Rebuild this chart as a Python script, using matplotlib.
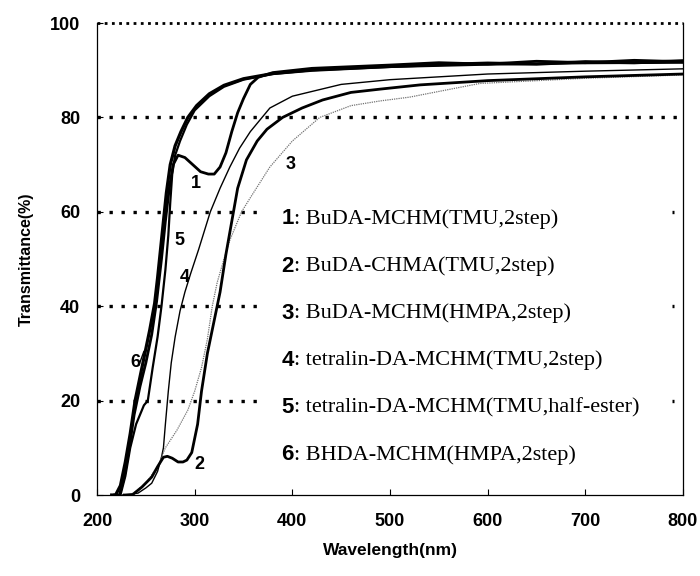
import matplotlib
matplotlib.use("Agg")
import matplotlib.pyplot as plt

# Transmittance spectra (wavelength nm, T %)
wl1 = [218, 223, 228, 233, 238, 244, 250, 256, 261, 266, 270, 274, 278, 283, 290, 298, 306, 314,
       320, 326, 332, 338, 344, 350, 357, 365, 380, 420, 500, 550, 600, 650, 700, 750, 800]
t1 = [0, 0, 4, 10, 17, 23, 28, 34, 41, 50, 58, 65, 70, 72, 71.5, 70, 68.5, 68,
      68, 69.5, 72.5, 77, 81, 84, 87, 88.5, 89.5, 90.4, 91.1, 91.6, 91.3, 91.9, 91.6, 92.1, 91.8]

wl2 = [228, 236, 246, 256, 262, 268, 272, 277, 283, 288, 292, 297, 300, 303, 307, 313, 320, 326,
       332, 338, 344, 353, 364, 374, 390, 410, 431, 460, 490, 531, 600, 700, 800]
t2 = [0, 0, 1.7, 3.8, 6, 8, 8.2, 7.8, 7, 7, 7.4, 9, 12, 15, 22, 30, 37, 43,
      51, 58, 65, 71, 75, 77.5, 80, 82, 83.7, 85.3, 86, 86.9, 87.8, 88.6, 89.2]

wl3 = [234, 240, 250, 262, 270, 282, 293, 300, 307, 313, 318, 323, 330, 336, 348, 357, 377, 400,
       428, 460, 490, 520, 592, 700, 800]
t3 = [0, 0.8, 2.5, 6, 10, 13.8, 18, 22, 27, 33, 40, 45, 50, 54, 60, 63, 69.5, 75,
      80, 82.5, 83.5, 84.3, 87.2, 88.3, 89]

wl4 = [226, 242, 250, 256, 262, 266, 268, 270, 273, 276, 280, 285, 290, 296, 304, 316, 326, 336,
       346, 357, 377, 400, 450, 500, 600, 700, 800]
t4 = [0, 0.4, 1.5, 2.5, 5, 8, 10, 15, 22, 28, 33.5, 39, 43, 47, 52, 60, 65, 69.5,
      73.5, 77, 82, 84.5, 87, 88, 89.2, 89.8, 90.3]

wl5 = [218, 224, 229, 234, 240, 244, 248, 252, 257, 262, 266, 270, 273, 275, 277, 280, 285, 292,
       300, 315, 330, 350, 380, 420, 500, 600, 700, 800]
t5 = [0, 0, 4, 10, 15, 17, 19, 20, 27, 33.5, 40, 47.7, 55, 62, 68, 72, 75, 78.5,
      81.5, 84.5, 86.5, 88, 89.2, 90, 90.7, 91.2, 91.5, 91.6]

wl6 = [215, 219, 224, 229, 234, 239, 244, 249, 254, 259, 262, 265, 268, 271, 275, 280, 286, 293,
       302, 315, 330, 350, 380, 420, 500, 550, 600, 650, 700, 750, 800]
t6 = [0, 0, 2, 7, 13, 20, 25, 30, 35, 40.6, 46, 52, 58, 64, 70, 74, 77, 80,
      82.5, 85, 86.8, 88.2, 89.3, 90, 90.8, 91.2, 91.5, 91.3, 91.8, 91.6, 92]

names = ["BuDA-MCHM(TMU,2step)", "BuDA-CHMA(TMU,2step)", "BuDA-MCHM(HMPA,2step)",
         "tetralin-DA-MCHM(TMU,2step)", "tetralin-DA-MCHM(TMU,half-ester)",
         "BHDA-MCHM(HMPA,2step)"]

# number tags next to the curves
tag_x = [301, 305, 398, 290, 284, 239]
tag_y = [66, 6.5, 70, 46, 54, 28]

fig = plt.figure(figsize=(7, 5.76), dpi=100)
ax = fig.add_axes([0.1386, 0.1406, 0.8371, 0.8194])

# dotted reference lines
dots = dict(color="black", linewidth=2.4, linestyle=(0, (1.0, 2.6)), zorder=1)
ax.hlines(80, 200, 800, **dots)
for yy in [20, 40, 60]:
    ax.hlines(yy, 200, 368, **dots)
    ax.hlines(yy, 789, 791, **dots)
ax.plot([200, 800], [100, 100], color="black", linewidth=2.0,
        linestyle=(0, (1.0, 1.6)), clip_on=False, zorder=3)

ax.plot(wl4, t4, color="black", linewidth=1.0, zorder=2)
ax.plot(wl3, t3, color="0.45", linewidth=0.9, linestyle=(0, (1, 0.8)), zorder=2)
ax.plot(wl2, t2, color="black", linewidth=2.0, zorder=2)
ax.plot(wl5, t5, color="black", linewidth=1.6, zorder=2)
ax.plot(wl6, t6, color="black", linewidth=2.3, zorder=2)
ax.plot(wl1, t1, color="black", linewidth=2.0, zorder=2)

for i in range(6):
    ax.text(tag_x[i], tag_y[i], str(i + 1), fontsize=13, fontweight="bold",
            family="Liberation Sans", ha="center", va="center")
ax.annotate("", xy=(249, 31), xytext=(242, 27),
            arrowprops=dict(arrowstyle="-", color="black", lw=1.0))

# legend written as text lines
leg_x = 389
leg_y = [58.5, 48.5, 38.5, 28.5, 18.5, 8.5]
for i in range(6):
    ax.text(leg_x, leg_y[i], str(i + 1), fontsize=16, fontweight="bold",
            family="Liberation Sans", ha="left", va="center")
    ax.annotate(": " + names[i], xy=(leg_x, leg_y[i]), xytext=(9, 0),
                textcoords="offset points", fontsize=16, family="Liberation Serif",
                ha="left", va="center")

ax.set_xlim(200, 800)
ax.set_ylim(0, 100)
ax.set_xticks([200, 300, 400, 500, 600, 700, 800])
ax.set_yticks([0, 20, 40, 60, 80, 100])
ax.tick_params(direction="in", length=4, width=0.8, labelsize=13, top=False, right=False)
ax.tick_params(axis="x", pad=13)
ax.tick_params(axis="y", pad=12)
for lab in ax.get_xticklabels() + ax.get_yticklabels():
    lab.set_fontweight("bold")
    lab.set_family("Liberation Sans")

ax.spines["top"].set_visible(False)
for s in ["left", "right", "bottom"]:
    ax.spines[s].set_linewidth(0.9)

ax.set_xlabel("Wavelength(nm)", fontsize=12.5, fontweight="bold",
              family="Liberation Sans", labelpad=9)
ax.set_ylabel("Transmittance(%)", fontsize=11.5, fontweight="bold",
              family="Liberation Sans", labelpad=12)

plt.savefig("out.png", dpi=100)
